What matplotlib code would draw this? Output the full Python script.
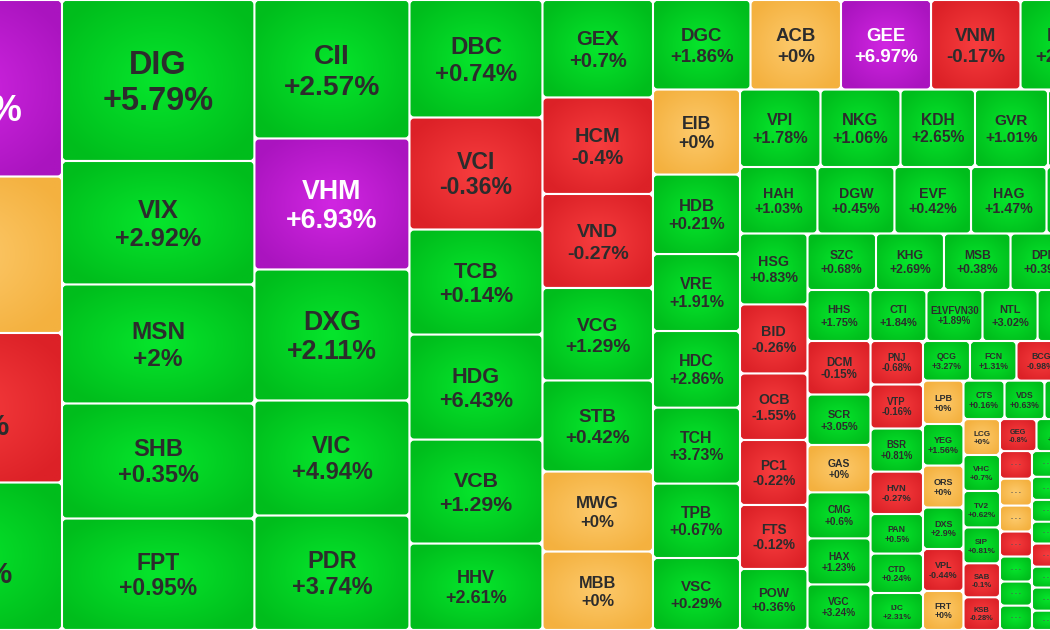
import numpy as np
import matplotlib
matplotlib.use("Agg")
import matplotlib.pyplot as plt
from matplotlib.patches import FancyBboxPatch
from matplotlib.colors import to_rgb
from matplotlib.textpath import TextPath
from matplotlib.font_manager import FontProperties

# The treemap is peeled strip by strip: "left" takes a column off the left of
# what is still free, "top" takes a row off its top (squarify style).
strip_side = ["left", "left", "left", "left", "left", "top", "left", "top", "top", "left",
              "top", "top", "left", "left", "top", "left", "top", "left", "top", "left",
              "left", "left"]
strip_count = [4, 5, 5, 6, 7, 5, 7, 5, 5, 6, 5, 5, 6, 7, 4, 6, 3, 6, 3, 7, 8, 1]

# "" = cell lying past the edge of the screenshot, "---" = cell too small to name
tickers = ["VPB", "VJC", "CTG", "SSI",
           "DIG", "VIX", "MSN", "SHB", "FPT",
           "CII", "VHM", "DXG", "VIC", "PDR",
           "DBC", "VCI", "TCB", "HDG", "VCB", "HHV",
           "GEX", "HCM", "VND", "VCG", "STB", "MWG", "MBB",
           "DGC", "ACB", "GEE", "VNM", "HPG",
           "EIB", "HDB", "VRE", "HDC", "TCH", "TPB", "VSC",
           "VPI", "NKG", "KDH", "GVR", "",
           "HAH", "DGW", "EVF", "HAG", "",
           "HSG", "BID", "OCB", "PC1", "FTS", "POW",
           "SZC", "KHG", "MSB", "DPM", "",
           "HHS", "CTI", "E1VFVN30", "NTL", "",
           "DCM", "SCR", "GAS", "CMG", "HAX", "VGC",
           "PNJ", "VTP", "BSR", "HVN", "PAN", "CTD", "IJC",
           "QCG", "FCN", "BCG", "",
           "LPB", "YEG", "ORS", "DXS", "VPL", "FRT",
           "CTS", "VDS", "",
           "LCG", "VHC", "TV2", "SIP", "SAB", "KSB",
           "GEG", "NVL", "",
           "---", "---", "---", "---", "---", "---", "---",
           "---", "---", "---", "---", "---", "---", "---", "---",
           ""]

change = [6.95, 0, -0.49, 1.93,
          5.79, 2.92, 2, 0.35, 0.95,
          2.57, 6.93, 2.11, 4.94, 3.74,
          0.74, -0.36, 0.14, 6.43, 1.29, 2.61,
          0.7, -0.4, -0.27, 1.29, 0.42, 0, 0,
          1.86, 0, 6.97, -0.17, 2.13,
          0, 0.21, 1.91, 2.86, 3.73, 0.67, 0.29,
          1.78, 1.06, 2.65, 1.01, 1.0,
          1.03, 0.45, 0.42, 1.47, 1.0,
          0.83, -0.26, -1.55, -0.22, -0.12, 0.36,
          0.68, 2.69, 0.38, 0.39, 1.0,
          1.75, 1.84, 1.89, 3.02, 1.0,
          -0.15, 3.05, 0, 0.6, 1.23, 3.24,
          -0.68, -0.16, 0.81, -0.27, 0.5, 0.24, 2.31,
          3.27, 1.31, -0.98, 1.0,
          0, 1.56, 0, 2.9, -0.44, 0,
          0.16, 0.63, 1.0,
          0, 0.7, 0.62, 0.81, -0.1, -0.28,
          -0.8, 1.5, 1.0,
          -0.1, 0, 0, -0.1, 0.1, 0.1, 0.1,
          0.1, 0.1, 0.1, 0.1, -0.1, 0.1, 0.1, 0.1,
          1.0]

# cell weight (area units)
size = [353.0, 313.0, 299.0, 295.0,
        309.9, 237.7, 229.1, 221.4, 214.6,
        214.7, 203.1, 203.1, 178.3, 177.5,
        156.3, 149.0, 139.7, 139.7, 138.3, 115.0,
        107.7, 106.6, 103.9, 102.2, 100.6, 88.4, 86.7,
        87.3, 81.0, 80.6, 80.1, 82.8,
        74.0, 69.2, 67.0, 66.6, 66.1, 64.8, 62.6,
        62.4, 62.0, 57.7, 56.6, 50.4,
        51.5, 51.2, 50.9, 50.2, 44.2,
        47.9, 46.6, 44.9, 43.9, 43.2, 41.2,
        38.7, 38.4, 37.6, 38.1, 19.8,
        32.1, 28.6, 28.6, 28.1, 38.5,
        33.7, 31.8, 29.9, 29.0, 29.0, 28.7,
        22.8, 23.1, 22.6, 22.3, 20.7, 20.7, 19.4,
        18.6, 18.4, 19.2, 19.0,
        17.6, 16.8, 17.0, 16.8, 17.0, 15.8,
        15.8, 15.4, 26.4,
        13.1, 13.1, 13.3, 13.1, 12.4, 11.9,
        11.7, 13.9, 10.6,
        8.8, 8.6, 8.3, 8.0, 8.0, 7.7, 7.8,
        8.2, 7.4, 7.0, 7.0, 7.4, 6.7, 7.4, 6.2,
        87.7]

W, H = 1050, 630
MAP_RIGHT = 1113      # map continues past the right edge of the screenshot
GAP = 1.5

COLORS = {  # (centre, edge) of the radial shading
    "up": ("#06e62c", "#00bd1c"),
    "down": ("#f73d3e", "#dc2127"),
    "flat": ("#fdca6c", "#f4b13f"),
    "ceil": ("#d126e2", "#aa14bf"),
}


def layout():
    area = np.array(size) * 100.0
    width = area.sum() / H
    x, y, w, h = MAP_RIGHT - width, 0.0, width, float(H)
    rects, i = [], 0
    for side, n in zip(strip_side, strip_count):
        vals = area[i:i + n]
        if side == "left":
            t = vals.sum() / h
            yy = y
            for v in vals:
                rects.append((x, yy, t, v / t))
                yy += v / t
            x += t
            w -= t
        else:
            t = vals.sum() / w
            xx = x
            for v in vals:
                rects.append((xx, y, v / t, t))
                xx += v / t
            y += t
            h -= t
        i += n
    return rects


def kind(v):
    if v >= 6.9:
        return "ceil"
    if v > 0:
        return "up"
    if v < 0:
        return "down"
    return "flat"


u, v = np.meshgrid(np.linspace(-1, 1, 40), np.linspace(-1, 1, 40))
radius = np.clip(np.sqrt(u ** 2 + v ** 2) / 1.25, 0, 1)

fp = FontProperties(family="Liberation Sans", weight="bold")


def em_width(s):
    return TextPath((0, 0), s, size=1, prop=fp).get_extents().width


fig = plt.figure(figsize=(W / 100, H / 100), dpi=100)
ax = fig.add_axes([0, 0, 1, 1])

for (x, y, w, h), tk, ch in zip(layout(), tickers, change):
    x0, y0 = x + GAP, y + GAP
    cw, chh = w - 2 * GAP, h - 2 * GAP
    c_in, c_out = COLORS[kind(ch)]
    patch = FancyBboxPatch((x0, y0), cw, chh, boxstyle="round,pad=0,rounding_size=3",
                           facecolor=c_out, edgecolor=c_out, linewidth=0.6)
    ax.add_patch(patch)
    a, b = np.array(to_rgb(c_in)), np.array(to_rgb(c_out))
    img = a[None, None, :] * (1 - radius[..., None]) + b[None, None, :] * radius[..., None]
    im = ax.imshow(img, extent=(x0, x0 + cw, y0 + chh, y0), interpolation="bilinear",
                   aspect="auto", zorder=1)
    im.set_clip_path(patch)

    if tk == "":
        continue
    cx, cy = x0 + cw / 2, y0 + chh / 2
    tcol = "white" if kind(ch) == "ceil" else "#2c2c2c"
    if tk == "---":
        ax.text(cx, cy, "- - -", ha="center", va="center", fontsize=4.5,
                color="#555555", fontproperties=fp, zorder=3)
        continue
    pct = f"{ch:+g}%"
    m = min(cw, chh)
    fpx = (1.2 + 0.14 * m) / 0.716
    widest = max(em_width(tk), em_width(pct))
    fpx = min(fpx, 0.9 * cw / widest)
    off = 0.55 * fpx
    for line, yc in ((tk, cy - off), (pct, cy + off)):
        ax.text(cx, yc + 0.358 * fpx, line, ha="center", va="baseline",
                fontproperties=fp, fontsize=fpx * 0.72, color=tcol, zorder=3)

ax.set_xlim(0, W)
ax.set_ylim(H, 0)
ax.axis("off")
fig.savefig("out.png", dpi=100, facecolor="white")
